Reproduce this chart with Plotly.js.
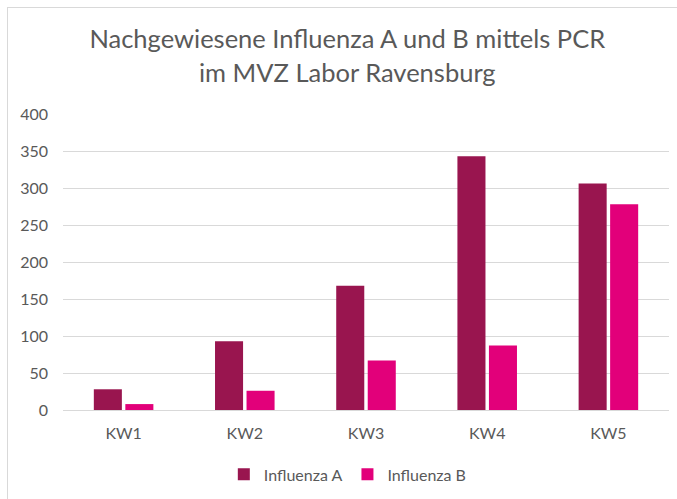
<!DOCTYPE html>
<html>
<head>
<meta charset="utf-8">
<script src="https://cdn.plot.ly/plotly-3.0.1.min.js"></script>
<style>
  html, body { margin: 0; padding: 0; background: #ffffff; }
  #wrap { position: relative; width: 677px; height: 499px; overflow: hidden; }
  #frame { position: absolute; left: 7px; top: 7px; width: 700px; height: 520px;
           border-left: 1px solid #d9d9d9; border-top: 1px solid #d9d9d9; pointer-events: none; }
  #chart { position: absolute; left: 0; top: 0; width: 677px; height: 499px; }
</style>
</head>
<body>
<div id="wrap">
  <div id="chart"></div>
  <div id="frame"></div>
</div>
<script>
const categories = ["KW1", "KW2", "KW3", "KW4", "KW5"];
const influenzaA = [28, 93, 168, 343, 306];
const influenzaB = [8, 26, 67, 87, 278];
const seriesNames = ["Influenza A", "Influenza B"];
const yTicks = [0, 50, 100, 150, 200, 250, 300, 350, 400];

const textColor = "#595959";
const fontFamily = "Lato, 'Open Sans', sans-serif";

const traces = [
  { type: "bar", name: seriesNames[0], x: categories, y: influenzaA,
    marker: { color: "#99154F" } },
  { type: "bar", name: seriesNames[1], x: categories, y: influenzaB,
    marker: { color: "#E2007A" } }
];

const layout = {
  width: 677, height: 499,
  paper_bgcolor: "rgba(0,0,0,0)", plot_bgcolor: "rgba(0,0,0,0)",
  margin: { l: 63, r: 8, t: 114, b: 86 },
  font: { family: fontFamily, color: textColor, size: 16 },
  title: {
    text: "Nachgewiesene Influenza A und B mittels PCR<br>im MVZ Labor Ravensburg",
    font: { family: fontFamily, size: 25.5, color: textColor },
    x: 0.513, xanchor: "center", xref: "container",
    y: 0.903, yanchor: "top", yref: "container"
  },
  barmode: "group",
  bargap: 0.48,
  bargroupgap: 0.11,
  xaxis: {
    type: "category",
    showgrid: false, showline: false, zeroline: false, ticks: "",
    ticklabelstandoff: 12,
    tickfont: { size: 16, color: textColor }
  },
  yaxis: {
    range: [0, 400],
    tickvals: yTicks,
    showgrid: true, gridcolor: "#d9d9d9", gridwidth: 1,
    zeroline: true, zerolinecolor: "#d9d9d9", zerolinewidth: 1,
    showline: false, ticks: "",
    ticklabelstandoff: 14,
    tickfont: { size: 16, color: textColor }
  },
  showlegend: true,
  legend: {
    orientation: "h", x: 0.47, xanchor: "center", y: -0.16, yanchor: "top",
    font: { size: 16, color: textColor },
    itemwidth: 30, traceorder: "normal"
  }
};

Plotly.newPlot("chart", traces, layout, { displayModeBar: false, staticPlot: true });
</script>
</body>
</html>
